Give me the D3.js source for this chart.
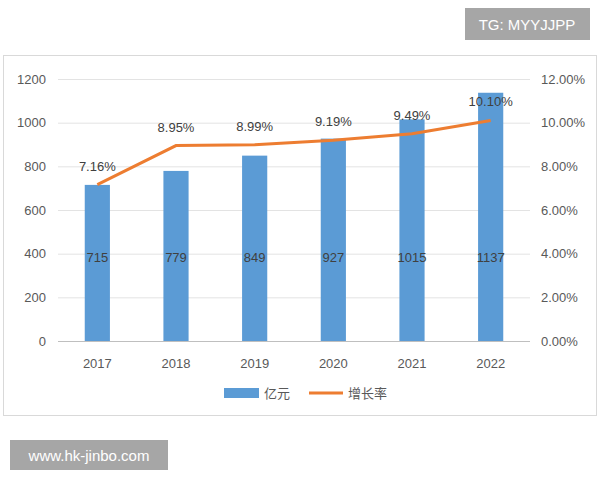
<!DOCTYPE html>
<html>
<head>
<meta charset="utf-8">
<script src="https://cdn.jsdelivr.net/npm/d3@7"></script>
<style>
body { margin: 0; background: #fff; font-family: "Noto Sans CJK SC", "Liberation Sans", sans-serif; }
</style>
</head>
<body>
<svg width="600" height="480"></svg>
<script>
var years = ['2017', '2018', '2019', '2020', '2021', '2022']
var amount = [715, 779, 849, 927, 1015, 1137]
var rate = [7.16, 8.95, 8.99, 9.19, 9.49, 10.10]
var leftTicks = [0, 200, 400, 600, 800, 1000, 1200]
var rightTicks = [0, 2, 4, 6, 8, 10, 12]

var svg = d3.select('svg')

// chart frame
svg.append('rect').attr('x', 3.5).attr('y', 55.5).attr('width', 593).attr('height', 360)
  .attr('fill', '#fff').attr('stroke', '#d9d9d9')

var x = d3.scaleBand().domain(years).range([58, 530]).paddingInner(0.68).paddingOuter(0.34)
var y = d3.scaleLinear().domain([0, 1200]).range([341, 79])
var y2 = d3.scaleLinear().domain([0, 12]).range([341, 79])

// gridlines
svg.append('g').selectAll('line').data(leftTicks).enter().append('line')
  .attr('x1', 58).attr('x2', 530)
  .attr('y1', d => y(d) + 0.5).attr('y2', d => y(d) + 0.5)
  .attr('stroke', d => d === 0 ? '#bfbfbf' : '#e3e3e3')

var leftAxis = svg.append('g').attr('transform', 'translate(50,0)')
  .call(d3.axisLeft(y).tickValues(leftTicks).tickSize(0).tickPadding(4).tickFormat(d => d))
var rightAxis = svg.append('g').attr('transform', 'translate(537,0)')
  .call(d3.axisRight(y2).tickValues(rightTicks).tickSize(0).tickPadding(4)
    .tickFormat(d => d.toFixed(2) + '%'))
var xAxis = svg.append('g').attr('transform', 'translate(0,349)')
  .call(d3.axisBottom(x).tickSize(0).tickPadding(10))
;[leftAxis, rightAxis, xAxis].forEach(function(a) {
  a.select('.domain').remove()
  a.selectAll('text').attr('fill', '#595959').style('font-size', '13px')
    .style('font-family', '"Liberation Sans", sans-serif')
})

// bars
svg.append('g').selectAll('rect').data(amount).enter().append('rect')
  .attr('x', (d, i) => x(years[i])).attr('width', x.bandwidth())
  .attr('y', d => y(d)).attr('height', d => y(0) - y(d))
  .attr('fill', '#5b9bd5')

svg.append('g').selectAll('text').data(amount).enter().append('text')
  .attr('x', (d, i) => x(years[i]) + x.bandwidth() / 2).attr('y', 262)
  .attr('text-anchor', 'middle').attr('fill', '#404040').style('font-size', '13px')
  .style('font-family', '"Liberation Sans", sans-serif')
  .text(d => d)

// line
var line = d3.line().x((d, i) => x(years[i]) + x.bandwidth() / 2).y(d => y2(d))
svg.append('path').datum(rate).attr('d', line)
  .attr('fill', 'none').attr('stroke', '#ed7d31').attr('stroke-width', 3)

svg.append('g').selectAll('text').data(rate).enter().append('text')
  .attr('x', (d, i) => x(years[i]) + x.bandwidth() / 2).attr('y', d => y2(d) - 14)
  .attr('text-anchor', 'middle').attr('fill', '#404040').style('font-size', '13px')
  .style('font-family', '"Liberation Sans", sans-serif')
  .text(d => d.toFixed(2) + '%')

// legend
var lg = svg.append('g').attr('transform', 'translate(0,393)')
lg.append('rect').attr('x', 224).attr('y', -5).attr('width', 35).attr('height', 10).attr('fill', '#5b9bd5')
lg.append('text').attr('x', 264).attr('y', 5).text('亿元').attr('fill', '#595959').style('font-size', '13px')
lg.append('line').attr('x1', 309).attr('x2', 343).attr('y1', 0).attr('y2', 0)
  .attr('stroke', '#ed7d31').attr('stroke-width', 3)
lg.append('text').attr('x', 348).attr('y', 5).text('增长率').attr('fill', '#595959').style('font-size', '13px')

// watermarks
svg.append('rect').attr('x', 465).attr('y', 8).attr('width', 125).attr('height', 32).attr('fill', '#a6a6a6')
svg.append('text').attr('x', 527).attr('y', 30).attr('text-anchor', 'middle').attr('fill', '#fff')
  .style('font-size', '15px').style('font-family', '"Liberation Sans", sans-serif').text('TG: MYYJJPP')
svg.append('rect').attr('x', 10).attr('y', 440).attr('width', 158).attr('height', 30).attr('fill', '#a6a6a6')
svg.append('text').attr('x', 89).attr('y', 461).attr('text-anchor', 'middle').attr('fill', '#fff')
  .style('font-size', '15px').style('font-family', '"Liberation Sans", sans-serif').text('www.hk-jinbo.com')
</script>
</body>
</html>
